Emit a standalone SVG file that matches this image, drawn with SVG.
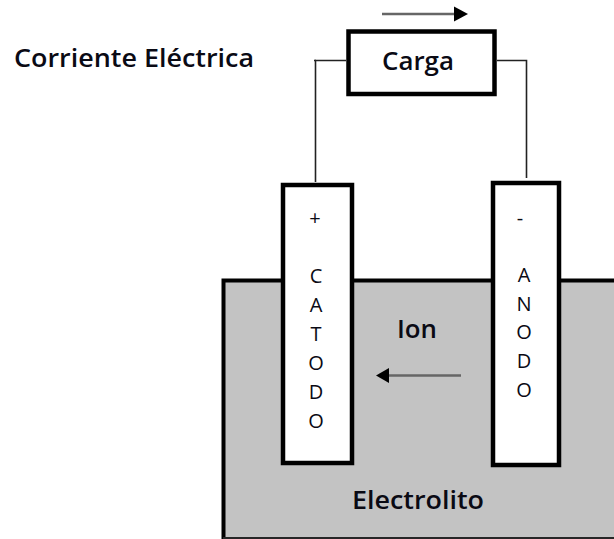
<svg xmlns="http://www.w3.org/2000/svg" width="614" height="539" viewBox="0 0 614 539">
<style>
.box{fill:#fff;stroke:#000;stroke-width:4.5}
.wire{fill:none;stroke:#222;stroke-width:1.6}
.arrow{fill:none;stroke:#666;stroke-width:2.400}
.head{fill:#000}
text{font-family:"Open Sans","Noto Sans",sans-serif;fill:#0a0a14}
.b{font-weight:600;font-size:26px;text-anchor:middle}
.l{font-size:20px;text-anchor:middle}
</style>
<rect width="614" height="539" fill="#fff"/>
<g id="electrolito">
<path d="M616 280.500H223.500V539H616Z" fill="#c3c3c3" stroke="#000" stroke-width="4"/>
<path d="M223 538H614" stroke="#333" stroke-width="1.500"/>
<text class="b" x="418" y="509" textLength="132" lengthAdjust="spacingAndGlyphs">Electrolito</text>
</g>
<g id="connectors">
<path class="wire" d="M346 60.500H315.500V182"/>
<path class="wire" d="M314 60.500H316"/>
<path class="wire" d="M497 60.500H526.500V178"/>
<path class="arrow" d="M382 14H455"/>
<path class="head" d="M454 6.500L468 14L454 21.500Z"/>
<path class="arrow" d="M461 375.500H386"/>
<path class="head" d="M389 368L376 375.500L389 383Z"/>
</g>
<g id="titulo">
<text class="b" x="134" y="67" textLength="240" lengthAdjust="spacingAndGlyphs">Corriente Eléctrica</text>
</g>
<g id="carga">
<rect class="box" x="348.500" y="31.500" width="146" height="62.500"/>
<text class="b" x="418" y="70" textLength="72" lengthAdjust="spacingAndGlyphs">Carga</text>
</g>
<g id="catodo">
<rect class="box" x="283" y="185" width="69" height="278"/>
<text class="l" x="315" y="225">+</text>
<text class="l" x="316" y="283">C</text>
<text class="l" x="316" y="312">A</text>
<text class="l" x="316" y="341">T</text>
<text class="l" x="316" y="370">O</text>
<text class="l" x="316" y="399">D</text>
<text class="l" x="316" y="428">O</text>
</g>
<g id="anodo">
<rect class="box" x="493" y="183" width="66" height="282"/>
<text class="l" x="520" y="225">-</text>
<text class="l" x="524" y="282">A</text>
<text class="l" x="524" y="311">N</text>
<text class="l" x="524" y="339">O</text>
<text class="l" x="524" y="368">D</text>
<text class="l" x="524" y="397">O</text>
</g>
<g id="ion">
<text class="b" x="417" y="338" textLength="40" lengthAdjust="spacingAndGlyphs">Ion</text>
</g>
</svg>
